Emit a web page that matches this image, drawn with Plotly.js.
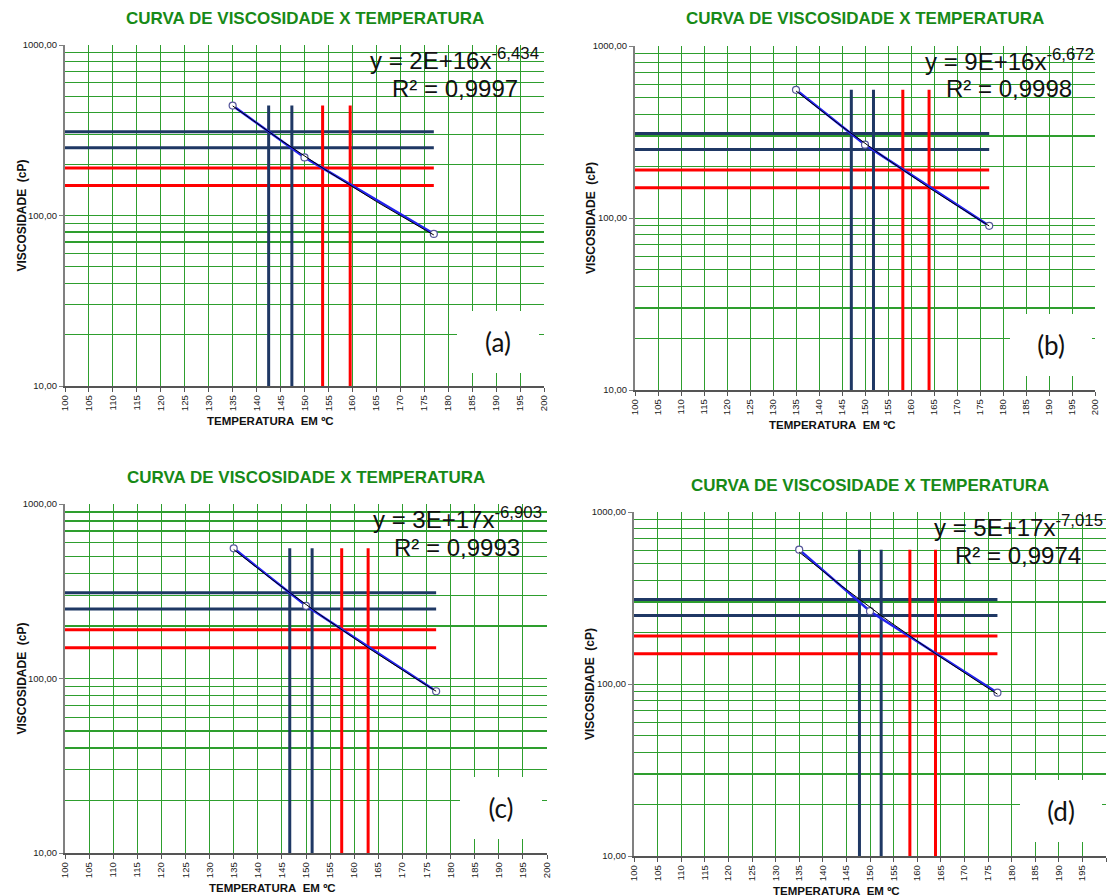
<!DOCTYPE html>
<html>
<head>
<meta charset="utf-8">
<script src="https://cdn.plot.ly/plotly-3.0.1.min.js"></script>
<style>
  html, body { margin: 0; padding: 0; background: #ffffff; }
  #chart { width: 1111px; height: 896px; }
</style>
</head>
<body>
<div id="chart"></div>
<script>
// Viscosity (cP) measured at three test temperatures (ºC) for four binders
const temperatures = [135, 150, 177];
const viscosityA = [441, 219, 78];
const viscosityB = [556, 267, 90];
const viscosityC = [557, 261, 84.5];
const viscosityD = [604, 265, 89];

// Power trendline exponents and R² of each fit
const trendExponents = [6.434, 6.672, 6.903, 7.015];
const rSquared = [0.9997, 0.9998, 0.9993, 0.9974];

// Viscosity ranges (cP): compaction (dark) and mixing (red)
const compactionLimits = [310, 250];
const mixingLimits = [190, 150];

const panelLetters = ['(a)', '(b)', '(c)', '(d)'];

// Axis ticks
const yTickValues = [10, 100, 1000];
const yTickText = ['10,00', '100,00', '1000,00'];
const yMinorValues = [20, 30, 40, 50, 60, 70, 80, 90, 200, 300, 400, 500, 600, 700, 800, 900];

const viscosities = [viscosityA, viscosityB, viscosityC, viscosityD];

// Plot-area pixel boxes of the four panels on the 1111 x 896 page
const W = 1111, H = 896;
const panelBoxes = [
  { l: 65,  r: 544,  t: 45,  b: 386 },
  { l: 635, r: 1095, t: 46,  b: 390 },
  { l: 65,  r: 547,  t: 504, b: 853 },
  { l: 634, r: 1106, t: 512, b: 856 }
];

const GRID = '#2e9e2e';
const NAVY = '#1f3864';
const RED = '#ff0000';
const TITLE_GREEN = '#178a17';
const FONT = 'Liberation Sans, Arial, sans-serif';

const comma = s => s.replace('.', ',');

const traces = [];
const layout = {
  width: W, height: H,
  margin: { l: 0, r: 0, t: 0, b: 0 },
  paper_bgcolor: '#ffffff',
  plot_bgcolor: '#ffffff',
  showlegend: false,
  font: { family: FONT, color: '#222222' },
  annotations: []
};

viscosities.forEach((visc, i) => {
  const sfx = i === 0 ? '' : String(i + 1);
  const xa = 'x' + sfx, ya = 'y' + sfx;
  const box = panelBoxes[i];
  const b = trendExponents[i];

  // Least-squares coefficient of y = a * x^-b for the given exponent
  const meanLnX = temperatures.reduce((s, t) => s + Math.log(t), 0) / temperatures.length;
  const meanLnY = visc.reduce((s, v) => s + Math.log(v), 0) / visc.length;
  const a = Math.exp(meanLnY + b * meanLnX);
  const trendAt = t => a * Math.pow(t, -b);
  const tempAt = v => Math.pow(a / v, 1 / b);

  const tFirst = temperatures[0];
  const tLast = temperatures[temperatures.length - 1];
  const vTop = visc[0];

  // Horizontal viscosity limits and the temperatures where the trendline meets them
  const limitGroups = [
    { values: compactionLimits, color: NAVY },
    { values: mixingLimits, color: RED }
  ];
  limitGroups.forEach(g => {
    g.values.forEach(v => {
      traces.push({
        x: [100, tLast], y: [v, v], xaxis: xa, yaxis: ya,
        mode: 'lines', line: { color: g.color, width: 3 }, hoverinfo: 'skip'
      });
    });
  });
  limitGroups.forEach(g => {
    g.values.forEach(v => {
      const tv = tempAt(v);
      traces.push({
        x: [tv, tv], y: [10, vTop], xaxis: xa, yaxis: ya,
        mode: 'lines', line: { color: g.color, width: 3 }, hoverinfo: 'skip'
      });
    });
  });

  // Measured points
  traces.push({
    x: temperatures, y: visc, xaxis: xa, yaxis: ya,
    mode: 'lines+markers',
    line: { color: '#2222ee', width: 2.5 },
    marker: { symbol: 'circle', size: 7, color: '#ffffff', line: { color: '#55559a', width: 1.2 } }
  });

  // Power trendline
  const tx = [], ty = [];
  for (let t = tFirst; t <= tLast; t += 1) { tx.push(t); ty.push(trendAt(t)); }
  traces.push({
    x: tx, y: ty, xaxis: xa, yaxis: ya,
    mode: 'lines', line: { color: '#000000', width: 1 }, hoverinfo: 'skip'
  });

  layout['xaxis' + sfx] = {
    domain: [box.l / W, box.r / W],
    anchor: ya,
    range: [100, 200],
    tick0: 100, dtick: 5,
    tickangle: -90,
    tickfont: { family: FONT, size: 9.5, color: '#222222' },
    showgrid: true, gridcolor: GRID, gridwidth: 1,
    zeroline: false,
    showline: true, linecolor: '#555555', linewidth: 1.5,
    ticks: 'outside', ticklen: 4, tickcolor: '#555555',
    fixedrange: true
  };
  layout['yaxis' + sfx] = {
    domain: [1 - box.b / H, 1 - box.t / H],
    anchor: xa,
    type: 'log',
    range: [1, 3],
    tickmode: 'array', tickvals: yTickValues, ticktext: yTickText,
    tickfont: { family: FONT, size: 9.5, color: '#222222' },
    showgrid: true, gridcolor: GRID, gridwidth: 1,
    minor: {
      tickmode: 'array', tickvals: yMinorValues,
      showgrid: true, gridcolor: GRID, gridwidth: 1.2, ticks: ''
    },
    zeroline: false,
    showline: true, linecolor: '#808080', linewidth: 2,
    ticks: 'outside', ticklen: 4, tickcolor: '#808080',
    fixedrange: true
  };

  const xd = xa + ' domain', yd = ya + ' domain';
  const coefText = a.toExponential(0).toUpperCase();
  const expText = '-' + comma(b.toFixed(3));
  const r2Text = comma(rSquared[i].toFixed(4));

  layout.annotations.push(
    {
      xref: xd, yref: yd, x: 0.5, y: 1, yshift: 27, xanchor: 'center', yanchor: 'middle',
      showarrow: false, text: '<b>CURVA DE VISCOSIDADE X TEMPERATURA</b>',
      font: { family: FONT, size: 17, color: TITLE_GREEN }
    },
    {
      xref: xd, yref: yd, x: 0, y: 0.5, xshift: -44, xanchor: 'center', yanchor: 'middle',
      textangle: -90, showarrow: false, text: '<b>VISCOSIDADE\u00a0\u00a0(cP)</b>',
      font: { family: FONT, size: 12, color: '#111111' }
    },
    {
      xref: xd, yref: yd, x: 0.43, y: 0, yshift: -35, xanchor: 'center', yanchor: 'middle',
      showarrow: false, text: '<b>TEMPERATURA\u00a0\u00a0EM\u00a0ºC</b>',
      font: { family: FONT, size: 11.5, color: '#111111' }
    },
    {
      xref: xd, yref: yd, x: 0.814, y: 1, yshift: -14, xanchor: 'center', yanchor: 'middle',
      showarrow: false, text: 'y = ' + coefText + 'x<sup>' + expText + '</sup>',
      font: { family: FONT, size: 24, color: '#111111' }
    },
    {
      xref: xd, yref: yd, x: 0.814, y: 1, yshift: -43, xanchor: 'center', yanchor: 'middle',
      showarrow: false, text: 'R² = ' + r2Text,
      font: { family: FONT, size: 24, color: '#111111' }
    },
    {
      xref: xd, yref: yd, x: 0.905, y: 0.13, xanchor: 'center', yanchor: 'middle',
      showarrow: false, text: panelLetters[i], width: 80, height: 60,
      bgcolor: '#ffffff', borderwidth: 0,
      font: { family: 'Lato, Open Sans, sans-serif', size: 26, color: '#111111' }
    }
  );
});

Plotly.newPlot('chart', traces, layout, { staticPlot: true, displayModeBar: false });
</script>
</body>
</html>
